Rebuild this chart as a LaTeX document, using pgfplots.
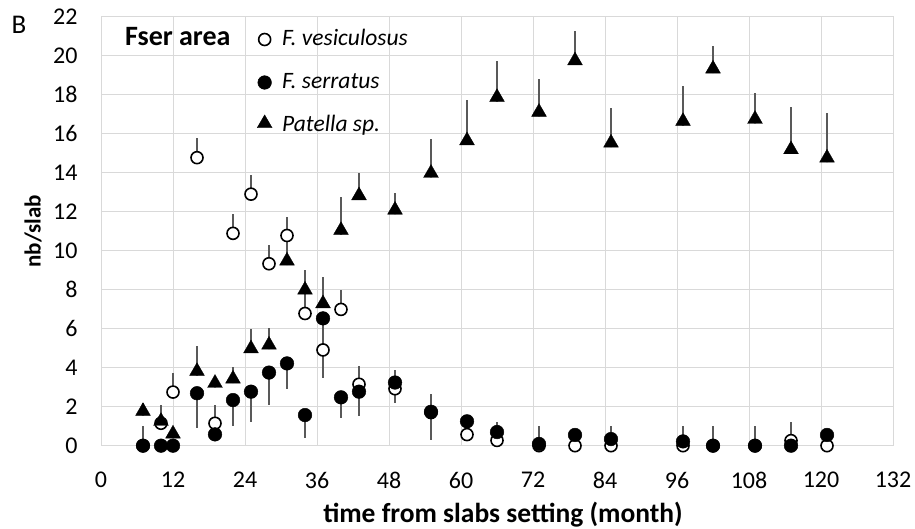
\documentclass[border=0pt]{standalone}
\usepackage{fontspec}
\setmainfont{Carlito}
\usepackage{pgfplots}
\pgfplotsset{compat=1.18}
\usepackage{pgfplotstable}
\definecolor{gridgray}{HTML}{D9D9D9}
\definecolor{barcolor}{HTML}{595959}

% F. vesiculosus (open circles), error bars plus
\pgfplotstableread{
x y e
7 0 1.0
10 1.15 0.95
12 2.75 0.97
16 14.77 0.99
19 1.15 0.94
22 10.89 0.98
25 12.9 0.98
28 9.33 0.96
31 10.78 0.97
34 6.78 1.0
37 4.91 1.2
40 6.99 0.97
43 3.15 0.93
49 2.92 0.96
55 1.70 0.95
61 0.57 0.6
66 0.27 0.96
73 0 1.0
79 0 0
85 0 1.0
97 0 1.0
102 0 1.0
109 0 1.0
115 0.26 0.97
121 0 0
}\vesic

% F. serratus (filled circles), error bars minus
\pgfplotstableread{
x y e
7 0 0
10 0 0
12 0 0
16 2.69 1.8
19 0.58 0
22 2.34 1.33
25 2.77 1.54
28 3.75 1.67
31 4.22 1.33
34 1.57 1.19
37 6.53 3.08
40 2.48 1.04
43 2.77 1.24
49 3.24 1.05
55 1.74 1.46
61 1.25 0
66 0.70 0
73 0.09 0
79 0.55 0
85 0.34 0
97 0.22 0
102 0 0
109 0 0
115 0 0
121 0.55 0
}\serrat

% Patella sp. (triangles), error bars plus
\pgfplotstableread{
x y e
7 1.66 0.54
10 1.15 0
12 0.50 0.4
16 3.71 1.4
19 3.10 0
22 3.32 0.7
25 4.87 1.1
28 5.06 0.98
31 9.37 1.4
34 7.88 1.12
37 7.18 1.49
40 10.94 1.8
43 12.72 1.25
49 11.98 0.96
55 13.87 1.86
61 15.54 2.19
66 17.76 1.97
73 17.00 1.8
79 19.64 1.64
85 15.42 1.88
97 16.53 1.93
102 19.22 1.29
109 16.64 1.45
115 15.08 2.27
121 14.65 2.4
}\patella

\begin{document}
\begin{tikzpicture}[x=1pt,y=1pt]
\useasboundingbox (0,0) rectangle (915,529);
\begin{axis}[
  at={(101pt,83.3pt)}, anchor=south west,
  scale only axis, width=792pt, height=429pt,
  xmin=0, xmax=132, ymin=0, ymax=22,
  xtick={0,12,...,132}, ytick={0,2,...,22},
  grid=major,
  major grid style={draw=gridgray, line width=1pt},
  axis line style={draw=gridgray, line width=1pt},
  major tick length=0pt,
  /pgf/number format/assume math mode=true,
  tick label style={font=\fontsize{24}{27}\selectfont},
  xticklabel style={yshift=-23pt},
  yticklabel style={xshift=-20pt},
  xlabel={time from slabs setting (month)},
  xlabel style={at={(rel axis cs:0.5,0)}, anchor=center, yshift=-69pt, xshift=6pt,
    font=\bfseries\fontsize{27.5}{32}\selectfont},
  ylabel={nb/slab},
  ylabel style={at={(rel axis cs:0,0.5)}, anchor=center, yshift=68pt,
    font=\bfseries\fontsize{23}{27}\selectfont},
  clip=false,
  legend style={at={(axis cs:26.0,21.43)}, anchor=north west, draw=none, fill=none,
    font=\fontsize{23.5}{27}\selectfont\itshape,
    row sep=20pt, inner sep=0pt,
    nodes={inner sep=1pt, text height=16pt, text depth=5pt},
    /tikz/every odd column/.append style={column sep=9pt}},
  legend cell align=left,
  error bars/error bar style={draw=barcolor, line width=1.6pt, solid},
  error bars/error mark=none,
]
% error bars first, behind all markers
\addplot[forget plot, only marks, mark=none, error bars/.cd, y dir=plus, y explicit]
  table[x=x, y=y, y error=e] {\vesic};
\addplot[forget plot, only marks, mark=none, error bars/.cd, y dir=minus, y explicit]
  table[x=x, y=y, y error=e] {\serrat};
\addplot[forget plot, only marks, mark=none, error bars/.cd, y dir=plus, y explicit]
  table[x=x, y=y, y error=e] {\patella};
% markers
\addplot[only marks, mark=*, mark size=6pt,
  mark options={fill=white, draw=black, line width=1.6pt}]
  table[x=x, y=y] {\vesic};
\addlegendentry{F. vesiculosus}
\addplot[only marks, mark=*, mark size=6.8pt,
  mark options={fill=black, draw=black, line width=0.5pt}]
  table[x=x, y=y] {\serrat};
\addlegendentry{F. serratus}
\addplot[only marks, mark=triangle*, mark size=8.6pt,
  mark options={fill=black, draw=black, line width=0.3pt, yshift=2.1pt}]
  table[x=x, y=y] {\patella};
\addlegendentry{Patella sp.}
\node[font=\bfseries\fontsize{28}{32}\selectfont, anchor=center] at (axis cs:12.8,20.96) {Fser area};
\end{axis}
\node[font=\fontsize{27}{31}\selectfont, anchor=center] at (19,504) {B};
\end{tikzpicture}
\end{document}
